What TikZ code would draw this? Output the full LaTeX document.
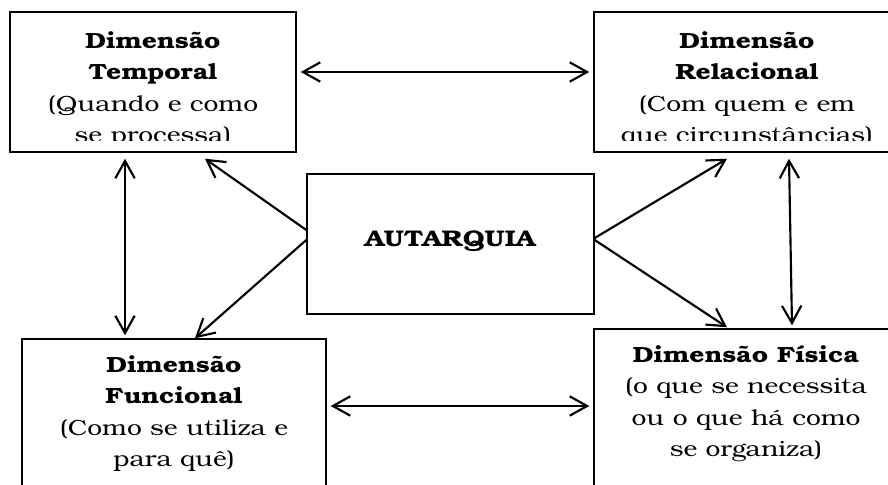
\documentclass[tikz,border=0pt]{standalone}
\usepackage{fontspec}
\setmainfont{TeX Gyre Bonum}[FakeStretch=1.2]
\usetikzlibrary{arrows.meta}

\begin{document}
\begin{tikzpicture}[x=0.75pt, y=-0.75pt,
	caixa/.style={draw, line width=1.1pt, inner sep=0pt},
	texto/.style={inner sep=0pt, align=center, anchor=north, font=\fontsize{16.5}{23.6}\selectfont},
	seta/.style={line width=1.6pt, -{Straight Barb[length=13pt, width=14.5pt]}},
	duplaseta/.style={line width=1.6pt, {Straight Barb[length=13pt, width=14.5pt]}-{Straight Barb[length=13pt, width=14.5pt]}}]
			%%%%% START %%%%%
			
			\useasboundingbox[fill=white] (0, 0) rectangle (888, 485);
			
			\node[caixa, minimum width=214.5pt, minimum height=105pt] (temporal) at (153, 82) {};
			\node[caixa, minimum width=229.5pt, minimum height=105pt] (relacional) at (747, 82) {};
			\node[caixa, minimum width=215.25pt, minimum height=105pt] (autarquia) at (450.5, 244) {};
			\node[caixa, minimum width=228pt, minimum height=120pt] (funcional) at (174, 419) {};
			\node[caixa, minimum width=228pt, minimum height=120pt] (fisica) at (746, 409) {};
			
			\begin{scope}
				\clip ([yshift=9pt]temporal.south west) rectangle (temporal.north east);
				\node[texto] (temporal-txt) at (153, 31) {\textbf{Dimensão}\\\textbf{Temporal}\\(Quando e como\\se processa)};
			\end{scope}
			\begin{scope}
				\clip ([yshift=9pt]relacional.south west) rectangle (relacional.north east);
				\node[texto] (relacional-txt) at (747, 31) {\textbf{Dimensão}\\\textbf{Relacional}\\(Com quem e em\\que circunstâncias)};
			\end{scope}
			
			\node[texto, anchor=base, font=\fontsize{17}{20}\selectfont] (autarquia-txt) at (450.5, 246) {\textbf{AUTARQUIA}};
			\node[texto] (funcional-txt) at (174, 355) {\textbf{Dimensão}\\\textbf{Funcional}\\(Como se utiliza e\\para quê)};
			\node[texto] (fisica-txt) at (746, 345) {\textbf{Dimensão Física}\\(o que se necessita\\ou o que há como\\se organiza)};
			
			\draw[duplaseta] ([xshift=3pt, yshift=7.5pt]temporal.east) -- ([xshift=-3pt, yshift=7.5pt]relacional.west);
			\draw[duplaseta] ([xshift=-21pt, yshift=-4.5pt]temporal.south) -- ([xshift=-21pt, yshift=2.25pt]temporal.south |- funcional.north);
			\draw[duplaseta] ([xshift=31.5pt, yshift=-4.5pt]relacional.south) -- ([xshift=34.5pt, yshift=2.25pt]fisica.north);
			\draw[duplaseta] ([xshift=3pt, yshift=9.75pt]funcional.east) -- ([xshift=-3pt, yshift=2.25pt]fisica.west);
			
			\draw[seta] ([yshift=10.5pt]autarquia.west) -- ([xshift=39pt, yshift=-4.5pt]temporal.south);
			\draw[seta] ([yshift=3pt]autarquia.west) -- ([xshift=15.75pt]funcional.north);
			\draw[seta] ([yshift=4.5pt]autarquia.east) -- ([xshift=-15pt, yshift=-4.5pt]relacional.south);
			\draw[seta] ([yshift=3pt]autarquia.east) -- ([xshift=-14.25pt, yshift=0.75pt]fisica.north);
			
			%%%%% END %%%%%
\end{tikzpicture}
\end{document}
